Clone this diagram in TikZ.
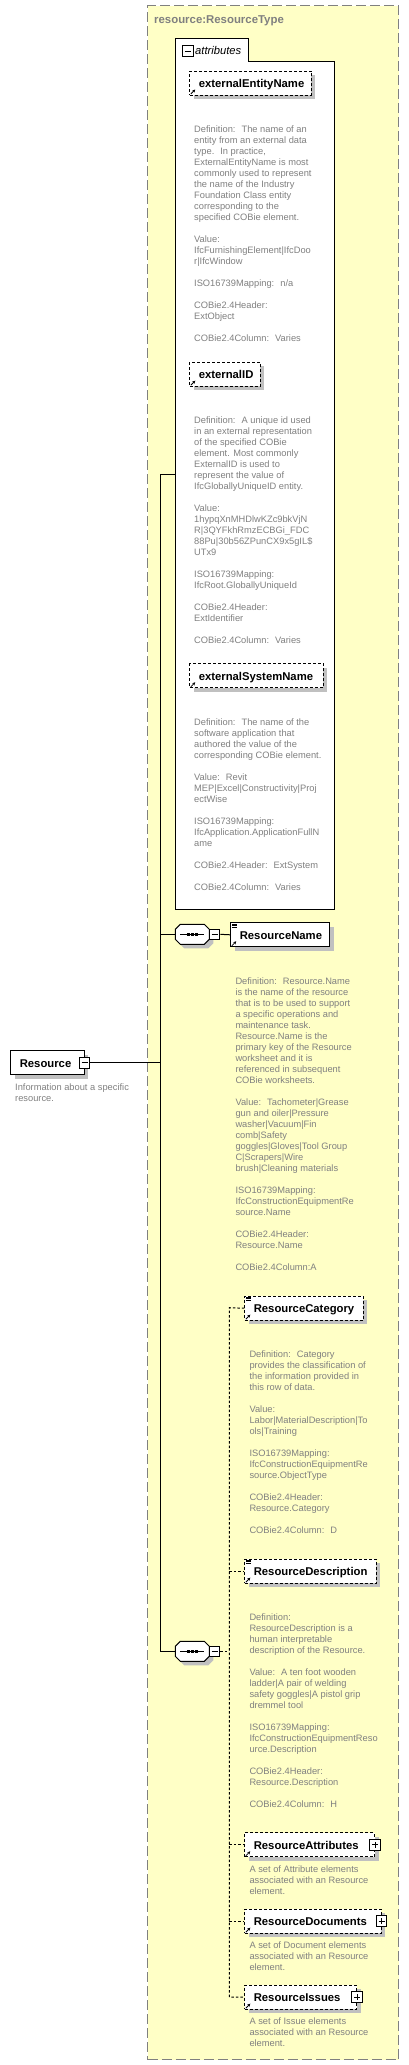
\documentclass[tikz,border=0pt]{standalone}
\usepackage{fontspec}
\setmainfont{Liberation Sans}
\usetikzlibrary{shadows,arrows.meta}
\definecolor{ybg}{RGB}{255,255,198}
\definecolor{dgray}{RGB}{128,128,128}
\definecolor{shgray}{RGB}{192,192,192}
\newcommand\descfont{\fontsize{9.3}{11}\selectfont}
\newcommand\namefont{\bfseries\fontsize{11.3}{13}\selectfont}
\newcommand\dlines[1]{\begin{tabular}[t]{@{}l@{}}#1\end{tabular}}
\newcommand\etxt[2]{\makebox[#1pt][l]{\hspace{9pt}#2}}
\newcommand\minusat[2]{\node[pmbox] (#1) at (#2) {};\draw[line width=1pt] ([xshift=-3pt]#1.center) -- ([xshift=3pt]#1.center);}
\newcommand\plusat[2]{\minusat{#1}{#2}\draw[line width=1pt] ([yshift=-3pt]#1.center) -- ([yshift=3pt]#1.center);}
\newcommand\refmark[1]{\draw[line width=0.8pt,-{Stealth[length=3pt,width=3pt]}] ([xshift=1.5pt,yshift=1.5pt]#1.south west) -- ([xshift=6pt,yshift=6pt]#1.south west);}
\newcommand\simplemark[1]{\foreach \d in {1.5,3,4.5}{\draw[line width=0.6pt] ([xshift=1.5pt,yshift=-\d pt]#1.north west) -- ++(5,0);}}
\tikzset{
  elembox/.style={draw=black, fill=white, line width=1pt, inner sep=0pt, minimum height=24pt,
    text height=9pt, text depth=0pt, anchor=north west, font=\namefont,
    drop shadow={shadow xshift=4pt, shadow yshift=-4pt, fill=shgray, opacity=1, draw=none}},
  optbox/.style={elembox, dash pattern=on 3pt off 2pt},
  pmbox/.style={draw=black, fill=white, line width=1pt, minimum size=10.5pt, inner sep=0pt},
  desc/.style={anchor=base west, inner sep=0pt, font=\descfont, text=dgray},
  conn/.style={line width=1pt, draw=black},
  optconn/.style={conn, dash pattern=on 2.5pt off 2pt},
  seqnode/.style={inner sep=0pt, minimum width=34pt, minimum height=20pt},
  seqpic/.pic={
    \fill[shgray] (-13,-1) -- (-8,-6) -- (16,-6) -- (21,-1) -- (21,9) -- (16,14) -- (-8,14) -- (-13,9) -- cycle;
    \draw[fill=white, line width=1pt] (-17,-5) -- (-12,-10) -- (12,-10) -- (17,-5) -- (17,5) -- (12,10) -- (-12,10) -- (-17,5) -- cycle;
    \draw[line width=1pt] (-12,0) -- (12,0);
    \foreach \x in {-4,0,4}{\fill (\x-1.4,-1.4) rectangle (\x+1.4,1.4);}
  }
}
\begin{document}
\begin{tikzpicture}[x=1pt,y=-1pt]
\useasboundingbox (0,0) rectangle (409,2065);

% outer complex type container
\node[draw=dgray, fill=ybg, dash pattern=on 10pt off 4pt, line width=1pt, anchor=north west,
      minimum width=251pt, minimum height=2053.7pt, inner sep=0pt] (outer) at (147.3,5.3) {};
\node[anchor=base west, inner sep=0pt, font=\bfseries\fontsize{11.4}{13}\selectfont, text=dgray] (title) at (154,23.3) {resource:ResourceType};

% attributes group
\draw[fill=white, line width=1pt] (175.3,38.3) -- (248.3,38.3) -- (248.3,61.3) -- (334.3,61.3) -- (334.3,909.3) -- (175.3,909.3) -- cycle;
\coordinate (attrL) at (175.3,474.3);
\minusat{attrm}{187.8,51.2}
\node[anchor=base west, inner sep=0pt, font=\itshape\fontsize{11.2}{13}\selectfont] (attrlabel) at (195,54.6) {attributes};

% attributes
\node[optbox, minimum width=121.4pt] (een) at (189.3,70.5) {\etxt{121.4}{externalEntityName}};
\refmark{een}
\node[desc] (d1) at (194,132.3) {\dlines{Definition:~ The name of an\\
entity from an external data\\
type.~ In practice,\\
ExternalEntityName is most\\
commonly used to represent\\
the name of the Industry\\
Foundation Class entity\\
corresponding to the\\
specified COBie element.\\
\\
Value:\\
IfcFurnishingElement|IfcDoo\\
r|IfcWindow\\
\\
ISO16739Mapping:~ n/a\\
\\
COBie2.4Header:\\
ExtObject\\
\\
COBie2.4Column:~ Varies}};

\node[optbox, minimum width=70.4pt] (eid) at (189.3,361.7) {\etxt{70.4}{externalID}};
\refmark{eid}
\node[desc] (d2) at (194,423.7) {\dlines{Definition:~ A unique id used\\
in an external representation\\
of the specified COBie\\
element. Most commonly\\
ExternalID is used to\\
represent the value of\\
IfcGloballyUniqueID entity.\\
\\
Value:\\
1hypqXnMHDlwKZc9bkVjN\\
R|3QYFkhRmzECBGi\_FDC\\
88Pu|30b56ZPunCX9x5gIL\$\\
UTx9\\
\\
ISO16739Mapping:\\
IfcRoot.GloballyUniqueId\\
\\
COBie2.4Header:\\
ExtIdentifier\\
\\
COBie2.4Column:~ Varies}};

\node[optbox, minimum width=133.4pt] (esn) at (189.3,663.3) {\etxt{133.4}{externalSystemName}};
\refmark{esn}
\node[desc] (d3) at (194,725.7) {\dlines{Definition:~ The name of the\\
software application that\\
authored the value of the\\
corresponding COBie element.\\
\\
Value:~ Revit\\
MEP|Excel|Constructivity|Proj\\
ectWise\\
\\
ISO16739Mapping:\\
IfcApplication.ApplicationFullN\\
ame\\
\\
COBie2.4Header:~ ExtSystem\\
\\
COBie2.4Column:~ Varies}};

% first sequence
\pic at (192.3,934.3) {seqpic};
\node[seqnode] (seq1) at (192.3,934.3) {};
\minusat{seq1m}{214.7,934.3}

\node[elembox, minimum width=99pt] (rname) at (230.3,922.3) {\etxt{99}{ResourceName}};
\simplemark{rname}
\refmark{rname}
\node[desc] (d4) at (235.3,984.7) {\dlines{Definition:~ Resource.Name\\
is the name of the resource\\
that is to be used to support\\
a specific operations and\\
maintenance task.\\
Resource.Name is the\\
primary key of the Resource\\
worksheet and it is\\
referenced in subsequent\\
COBie worksheets.\\
\\
Value:~ Tachometer|Grease\\
gun and oiler|Pressure\\
washer|Vacuum|Fin\\
comb|Safety\\
goggles|Gloves|Tool Group\\
C|Scrapers|Wire\\
brush|Cleaning materials\\
\\
ISO16739Mapping:\\
IfcConstructionEquipmentRe\\
source.Name\\
\\
COBie2.4Header:\\
Resource.Name\\
\\
COBie2.4Column:A}};

% root element
\node[elembox, minimum width=73.4pt] (res) at (10.3,1050.3) {\etxt{73.4}{Resource}};
\minusat{resm}{res.east}
\node[desc] (d5) at (15,1090.7) {\dlines{Information about a specific\\resource.}};

% second sequence
\pic at (192.3,1651.3) {seqpic};
\node[seqnode] (seq2) at (192.3,1651.3) {};
\minusat{seq2m}{214.7,1651.3}

\node[optbox, minimum width=118.4pt] (rcat) at (244.3,1295.7) {\etxt{118.4}{ResourceCategory}};
\simplemark{rcat}
\refmark{rcat}
\node[desc] (d6) at (249.3,1357.7) {\dlines{Definition:~ Category\\
provides the classification of\\
the information provided in\\
this row of data.\\
\\
Value:\\
Labor|MaterialDescription|To\\
ols|Training\\
\\
ISO16739Mapping:\\
IfcConstructionEquipmentRe\\
source.ObjectType\\
\\
COBie2.4Header:\\
Resource.Category\\
\\
COBie2.4Column:~ D}};

\node[optbox, minimum width=131.4pt] (rdesc) at (244.3,1558.7) {\etxt{131.4}{ResourceDescription}};
\simplemark{rdesc}
\refmark{rdesc}
\node[desc] (d7) at (249.3,1620.7) {\dlines{Definition:\\
ResourceDescription is a\\
human interpretable\\
description of the Resource.\\
\\
Value:~ A ten foot wooden\\
ladder|A pair of welding\\
safety goggles|A pistol grip\\
dremmel tool\\
\\
ISO16739Mapping:\\
IfcConstructionEquipmentReso\\
urce.Description\\
\\
COBie2.4Header:\\
Resource.Description\\
\\
COBie2.4Column:~ H}};

\node[optbox, minimum width=129.7pt] (rattr) at (244.3,1832.3) {\etxt{129.7}{ResourceAttributes}};
\refmark{rattr}
\plusat{rattrp}{rattr.east}
\node[desc] (d8) at (249.3,1872.7) {\dlines{A set of Attribute elements\\
associated with an Resource\\
element.}};

\node[optbox, minimum width=136.4pt] (rdocs) at (244.3,1908.7) {\etxt{136.4}{ResourceDocuments}};
\refmark{rdocs}
\plusat{rdocsp}{rdocs.east}
\node[desc] (d9) at (249.3,1948.7) {\dlines{A set of Document elements\\
associated with an Resource\\
element.}};

\node[optbox, minimum width=111.7pt] (riss) at (244.3,1984.7) {\etxt{111.7}{ResourceIssues}};
\refmark{riss}
\plusat{rissp}{riss.east}
\node[desc] (d10) at (249.3,2024.7) {\dlines{A set of Issue elements\\
associated with an Resource\\
element.}};

% connectors
\coordinate (jtop) at (160.3,474.3);
\coordinate (jbot) at (160.3,1651.3);
\draw[conn] (attrL) -- (jtop) -- (jbot) -- (seq2.west);
\draw[conn] (resm.east) -- (resm.east -| jtop);
\draw[conn] (jtop |- seq1.west) -- (seq1.west);
\draw[conn] (seq1m.east) -- (rname.west);
\coordinate (dv) at (229.3,1307.7);
\draw[optconn] (rcat.west) -- (dv) -- (dv |- riss.west) -- (riss.west);
\draw[optconn] (seq2m.east) -- (seq2m.east -| dv);
\foreach \n in {rdesc,rattr,rdocs}{\draw[optconn] (dv |- \n.west) -- (\n.west);}
\end{tikzpicture}
\end{document}
